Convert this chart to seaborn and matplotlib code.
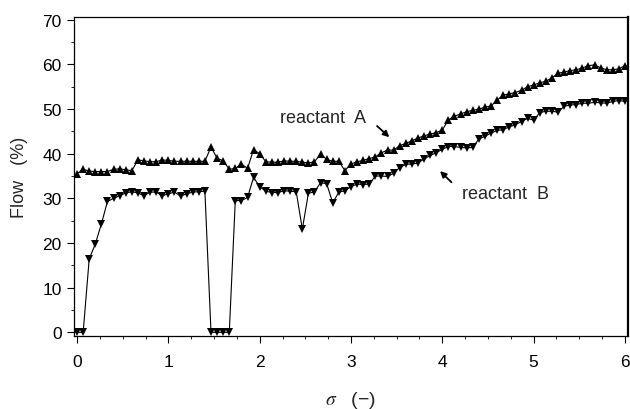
import numpy as np
import pandas as pd
import matplotlib
matplotlib.use("Agg")
import matplotlib.pyplot as plt
from matplotlib.ticker import MultipleLocator
import seaborn as sns

# Dimensionless position sigma along the bed (sampling grid, step 1/15)
sigma = [
    0.0, 0.067, 0.133, 0.2, 0.267, 0.333, 0.4, 0.467, 0.533, 0.6, 0.667, 0.733, 0.8, 0.867, 0.933,
    1.0, 1.067, 1.133, 1.2, 1.267, 1.333, 1.4, 1.467, 1.533, 1.6, 1.667, 1.733, 1.8, 1.867, 1.933,
    2.0, 2.067, 2.133, 2.2, 2.267, 2.333, 2.4, 2.467, 2.533, 2.6, 2.667, 2.733, 2.8, 2.867, 2.933,
    3.0, 3.067, 3.133, 3.2, 3.267, 3.333, 3.4, 3.467, 3.533, 3.6, 3.667, 3.733, 3.8, 3.867, 3.933,
    4.0, 4.067, 4.133, 4.2, 4.267, 4.333, 4.4, 4.467, 4.533, 4.6, 4.667, 4.733, 4.8, 4.867, 4.933,
    5.0, 5.067, 5.133, 5.2, 5.267, 5.333, 5.4, 5.467, 5.533, 5.6, 5.667, 5.733, 5.8, 5.867, 5.933,
    6.0,
]

# Flow of reactant A (%)
flow_a = [
    35.5, 36.5, 36.1, 36.0, 36.0, 36.0, 36.5, 36.6, 36.4, 36.2,
    38.6, 38.4, 38.2, 38.2, 38.6, 38.5, 38.3, 38.3, 38.3, 38.3,
    38.3, 38.3, 41.5, 39.0, 38.4, 36.5, 36.7, 37.7, 36.7, 40.9,
    40.0, 38.2, 38.1, 38.1, 38.4, 38.3, 38.3, 38.1, 37.9, 38.2,
    39.9, 38.7, 38.3, 38.3, 36.2, 37.7, 38.2, 38.5, 38.9, 39.3,
    40.2, 40.8, 40.8, 41.8, 42.3, 42.9, 43.5, 44.0, 44.4, 44.7,
    45.3, 47.6, 48.4, 48.9, 49.4, 49.7, 50.0, 50.4, 50.7, 52.0,
    53.1, 53.4, 53.7, 54.2, 55.0, 55.4, 55.9, 56.2, 57.0, 58.0,
    58.3, 58.6, 58.8, 59.2, 59.7, 59.9, 59.2, 58.8, 58.8, 59.0,
    59.7,
]

# Flow of reactant B (%)
flow_b = [
    0.0, 0.0, 16.4, 19.8, 24.3, 29.3, 30.0, 30.6, 31.2, 31.5,
    31.2, 30.6, 31.4, 31.4, 30.6, 31.0, 31.4, 30.5, 31.0, 31.4,
    31.5, 31.6, 0.0, 0.0, 0.0, 0.0, 29.5, 29.5, 30.2, 34.7,
    32.6, 31.6, 31.3, 31.3, 31.7, 31.6, 31.5, 23.1, 31.1, 31.5,
    33.5, 33.3, 29.0, 31.4, 31.7, 32.6, 33.2, 33.1, 33.2, 35.0,
    35.0, 34.9, 35.6, 36.9, 37.6, 37.7, 37.9, 38.8, 39.6, 40.2,
    41.0, 41.6, 41.6, 41.4, 41.3, 41.4, 43.3, 43.9, 44.6, 45.2,
    45.4, 46.0, 46.5, 47.2, 47.9, 47.5, 49.2, 49.5, 49.5, 49.3,
    50.6, 50.9, 51.0, 51.3, 51.3, 51.5, 51.4, 51.3, 51.7, 51.9,
    51.7,
]

series_names = ["reactant A", "reactant B"]

df = pd.concat([
    pd.DataFrame({"sigma": sigma, "flow": flow_a, "species": series_names[0]}),
    pd.DataFrame({"sigma": sigma, "flow": flow_b, "species": series_names[1]}),
], ignore_index=True)

sns.set_style("ticks")
plt.rcParams["font.family"] = ["Liberation Sans", "DejaVu Sans"]
plt.rcParams["mathtext.fontset"] = "stix"

fig = plt.figure(figsize=(6.3, 4.1), dpi=100)
ax = fig.add_axes([0.1175, 0.178, 0.8793, 0.778])

sns.lineplot(
    data=df, x="sigma", y="flow", style="species",
    markers={"reactant A": "^", "reactant B": "v"},
    dashes=False, color="black", linewidth=0.8,
    markersize=6, markeredgewidth=0, legend=False, ax=ax,
    estimator=None, sort=False,
)

ax.set_xlim(-0.033, 6.033)
ax.set_ylim(-0.83, 70.6)
ax.xaxis.set_major_locator(MultipleLocator(1))
ax.xaxis.set_minor_locator(MultipleLocator(0.25))
ax.yaxis.set_major_locator(MultipleLocator(10))
ax.yaxis.set_minor_locator(MultipleLocator(5))
ax.tick_params(which="major", direction="out", length=5, width=0.8,
               labelsize=12.5, colors="black")
ax.tick_params(axis="x", which="major", pad=8)
ax.tick_params(axis="y", which="major", pad=4)
ax.tick_params(which="minor", direction="out", length=2.5, width=0.7)
for s in ax.spines.values():
    s.set_visible(True)
    s.set_linewidth(0.9)
    s.set_color("black")
ax.spines["right"].set_linewidth(1.6)

ax.set_xlabel(r"$\sigma$   (−)", fontsize=14, labelpad=14)
ax.set_ylabel("Flow   (%)", fontsize=13, labelpad=10)

# Curve labels with pointer arrows
ax.text(2.22, 48.0, "reactant  A", fontsize=13, va="center", ha="left")
ax.annotate("", xy=(3.42, 43.7), xytext=(3.285, 46.2),
            arrowprops=dict(arrowstyle="-|>", color="black", lw=1.3,
                            mutation_scale=9, shrinkA=0, shrinkB=0))
ax.text(4.22, 31.0, "reactant  B", fontsize=13, va="center", ha="left")
ax.annotate("", xy=(3.975, 36.1), xytext=(4.10, 33.6),
            arrowprops=dict(arrowstyle="-|>", color="black", lw=1.3,
                            mutation_scale=9, shrinkA=0, shrinkB=0))

fig.savefig("out.png", dpi=100)
